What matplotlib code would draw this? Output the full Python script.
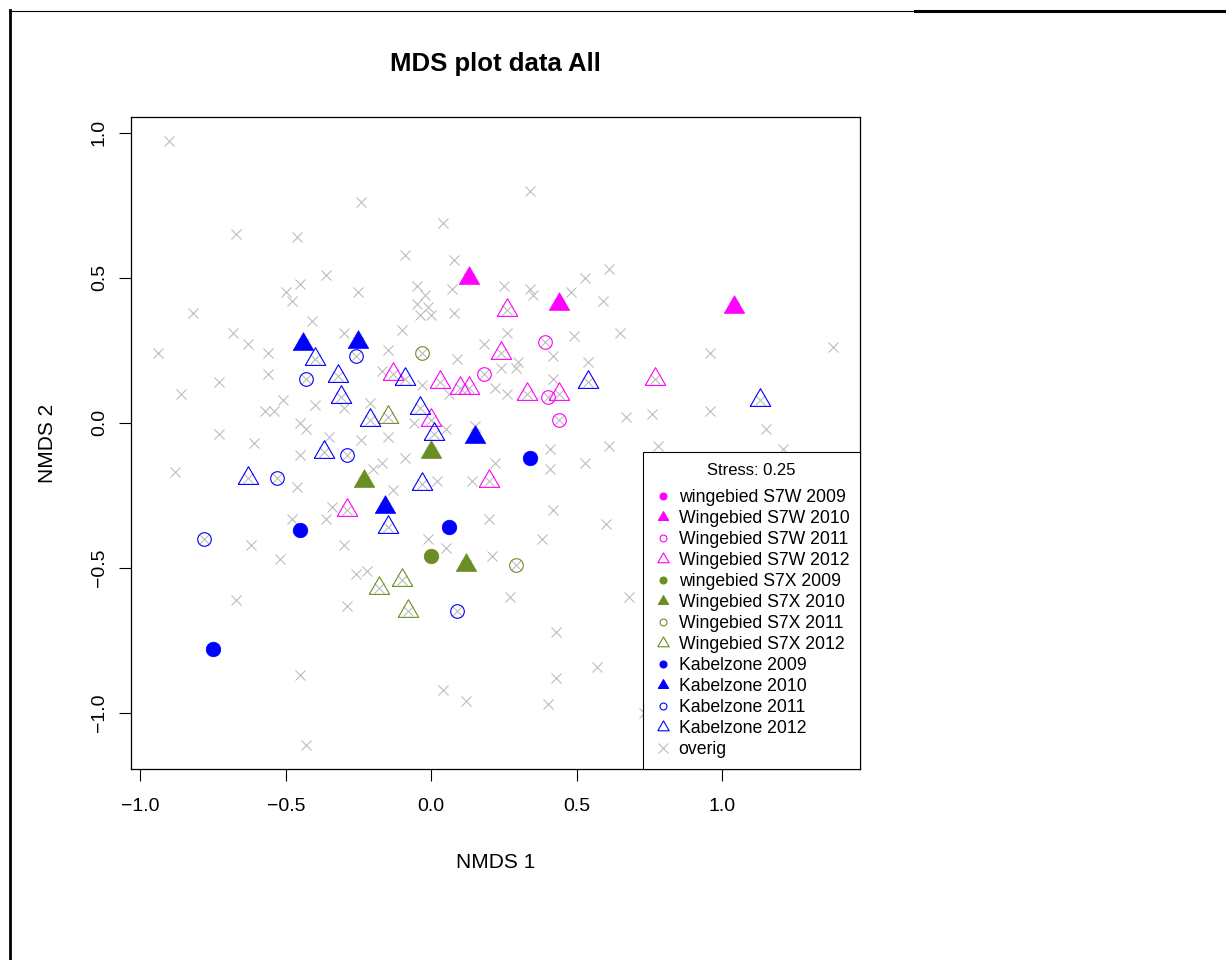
import matplotlib
matplotlib.use("Agg")
import matplotlib.pyplot as plt
from matplotlib.lines import Line2D

plt.rcParams['font.family'] = ['Liberation Sans', 'DejaVu Sans']

# --- data (NMDS 1, NMDS 2) ---
# S7W (magenta)
s7w_2009_x = []
s7w_2009_y = []
s7w_2010_x = [0.13, 0.44, 1.04]
s7w_2010_y = [0.50, 0.41, 0.40]
s7w_2011_x = [0.39, 0.18, 0.40, 0.44]
s7w_2011_y = [0.28, 0.17, 0.09, 0.01]
s7w_2012_x = [0.26, 0.24, 0.33, 0.44, 0.77, -0.13, 0.03, 0.10, 0.13, 0.00, 0.20, -0.29]
s7w_2012_y = [0.39, 0.24, 0.10, 0.10, 0.15, 0.17, 0.14, 0.12, 0.12, 0.01, -0.20, -0.30]

# S7X (olive)
s7x_2009_x = [0.00]
s7x_2009_y = [-0.46]
s7x_2010_x = [0.00, -0.23, 0.12]
s7x_2010_y = [-0.10, -0.20, -0.49]
s7x_2011_x = [-0.03, 0.29]
s7x_2011_y = [0.24, -0.49]
s7x_2012_x = [-0.15, -0.10, -0.18, -0.08]
s7x_2012_y = [0.02, -0.54, -0.57, -0.65]

# Kabelzone (blue)
kz_2009_x = [-0.45, 0.06, -0.75, 0.34]
kz_2009_y = [-0.37, -0.36, -0.78, -0.12]
kz_2010_x = [-0.44, -0.25, 0.15, -0.16]
kz_2010_y = [0.27, 0.28, -0.05, -0.29]
kz_2011_x = [-0.26, -0.43, -0.29, -0.53, -0.78, 0.09]
kz_2011_y = [0.23, 0.15, -0.11, -0.19, -0.40, -0.65]
kz_2012_x = [-0.40, -0.32, -0.31, -0.09, -0.04, -0.21, 0.01, 0.54, 1.13, -0.37, -0.63, -0.03, -0.15]
kz_2012_y = [0.22, 0.16, 0.09, 0.15, 0.05, 0.01, -0.04, 0.14, 0.08, -0.10, -0.19, -0.21, -0.36]

# overige sites (grey crosses)
overig_x = [-0.90, -0.24, 0.04, -0.67, -0.46, -0.09, 0.08, -0.36, -0.45, -0.50,
            -0.48, -0.25, -0.05, -0.02, -0.05, -0.01, -0.04, 0.00, 0.07, 0.08,
            -0.82, -0.41, -0.68, -0.30, -0.10, -0.63, -0.94, -0.56, -0.15, 0.18,
            0.09, -0.73, -0.56, -0.17, -0.86, -0.51, -0.57, -0.54, -0.40, -0.21,
            -0.30, -0.03, 0.06, 0.22, -0.45, -0.43, -0.73, -0.61, -0.35, -0.24,
            -0.15, 0.15, 0.05, -0.06,
            0.34, 0.61, 0.53, 0.25, 0.34, 0.35, 0.48, 0.59, 0.26, 0.49,
            0.65, 0.42, 0.54, 0.30, 0.24, 0.29, 0.42, 0.26, 0.96, 1.38,
            0.67, 0.76, 0.96, 1.15, 1.21, 0.41, 0.61, 0.78,
            -0.45, -0.09, -0.20, -0.17, 0.22, -0.88, -0.46, -0.13, 0.02, 0.14,
            -0.34, -0.48, -0.36, 0.20, -0.62, -0.30, -0.01, 0.05, 0.21, -0.52,
            -0.26, -0.22, -0.67, -0.29, -0.45, 0.04, 0.12, -0.43,
            0.41, 0.53, 0.42, 0.60, 0.38, 0.27, 0.68, 0.43, 0.57, 0.43,
            0.40, 0.73]
overig_y = [0.97, 0.76, 0.69, 0.65, 0.64, 0.58, 0.56, 0.51, 0.48, 0.45,
            0.42, 0.45, 0.47, 0.44, 0.41, 0.40, 0.37, 0.37, 0.46, 0.38,
            0.38, 0.35, 0.31, 0.31, 0.32, 0.27, 0.24, 0.24, 0.25, 0.27,
            0.22, 0.14, 0.17, 0.18, 0.10, 0.08, 0.04, 0.04, 0.06, 0.07,
            0.05, 0.13, 0.10, 0.12, 0.00, -0.02, -0.04, -0.07, -0.05, -0.06,
            -0.05, -0.01, -0.02, 0.00,
            0.80, 0.53, 0.50, 0.47, 0.46, 0.44, 0.45, 0.42, 0.31, 0.30,
            0.31, 0.23, 0.21, 0.21, 0.19, 0.19, 0.15, 0.10, 0.24, 0.26,
            0.02, 0.03, 0.04, -0.02, -0.09, -0.09, -0.08, -0.08,
            -0.11, -0.12, -0.16, -0.14, -0.14, -0.17, -0.22, -0.23, -0.20, -0.20,
            -0.29, -0.33, -0.33, -0.33, -0.42, -0.42, -0.40, -0.43, -0.46, -0.47,
            -0.52, -0.51, -0.61, -0.63, -0.87, -0.92, -0.96, -1.11,
            -0.16, -0.14, -0.30, -0.35, -0.40, -0.60, -0.60, -0.72, -0.84, -0.88,
            -0.97, -1.00]

MAGENTA = '#FF00FF'
OLIVE = '#6B8E23'
BLUE = '#0000FF'
GREY = '#BEBEBE'

# R-style equilateral triangle, centred on its centroid
TRI = [(-1, -0.577), (1, -0.577), (0, 1.155), (-1, -0.577)]

groups = [
    ('wingebied S7W 2009', s7w_2009_x, s7w_2009_y, MAGENTA, 'o', True),
    ('Wingebied S7W 2010', s7w_2010_x, s7w_2010_y, MAGENTA, '^', True),
    ('Wingebied S7W 2011', s7w_2011_x, s7w_2011_y, MAGENTA, 'o', False),
    ('Wingebied S7W 2012', s7w_2012_x, s7w_2012_y, MAGENTA, '^', False),
    ('wingebied S7X 2009', s7x_2009_x, s7x_2009_y, OLIVE, 'o', True),
    ('Wingebied S7X 2010', s7x_2010_x, s7x_2010_y, OLIVE, '^', True),
    ('Wingebied S7X 2011', s7x_2011_x, s7x_2011_y, OLIVE, 'o', False),
    ('Wingebied S7X 2012', s7x_2012_x, s7x_2012_y, OLIVE, '^', False),
    ('Kabelzone 2009', kz_2009_x, kz_2009_y, BLUE, 'o', True),
    ('Kabelzone 2010', kz_2010_x, kz_2010_y, BLUE, '^', True),
    ('Kabelzone 2011', kz_2011_x, kz_2011_y, BLUE, 'o', False),
    ('Kabelzone 2012', kz_2012_x, kz_2012_y, BLUE, '^', False),
]

fig = plt.figure(figsize=(12.26, 9.6), dpi=100)
ax = fig.add_axes([131 / 1226, 1 - 769 / 960, 729 / 1226, 652 / 960])

# all sites as grey crosses first, groups on top
all_x = list(overig_x)
all_y = list(overig_y)
for g in groups:
    all_x += g[1]
    all_y += g[2]
ax.plot(all_x, all_y, linestyle='none', marker='x', markersize=7.2,
        markeredgewidth=0.8, color=GREY)

handles = []
for label, gx, gy, col, shape, filled in groups:
    mk = TRI if shape == '^' else 'o'
    if shape == '^':
        ms = 17
    else:
        ms = 10.5 if filled else 9.8
    ax.plot(gx, gy, linestyle='none', marker=mk, markersize=ms,
            markerfacecolor=col if filled else 'none', markeredgecolor=col,
            markeredgewidth=0.8 if not filled else 0.5)
    lms = (8.5 if filled else 9.5) if shape == '^' else 5
    handles.append(Line2D([], [], linestyle='none', marker=mk, markersize=lms,
                          markerfacecolor=col if filled else 'none',
                          markeredgecolor=col, markeredgewidth=0.8, label=label))
handles.append(Line2D([], [], linestyle='none', marker='x', markersize=7.2,
                      markeredgewidth=0.8, color=GREY, label='overig'))

ax.set_xlim(-1.032, 1.474)
ax.set_ylim(-1.193, 1.054)
ax.set_xticks([-1.0, -0.5, 0.0, 0.5, 1.0])
ax.set_yticks([-1.0, -0.5, 0.0, 0.5, 1.0])
ax.tick_params(direction='out', length=8.6, width=0.8, labelsize=14)
ax.tick_params(axis='x', pad=12)
ax.tick_params(axis='y', pad=8, labelrotation=90)
for t in ax.get_yticklabels():
    t.set_va('center')
for s in ax.spines.values():
    s.set_linewidth(0.9)
    s.set_color('black')

ax.set_xlabel('NMDS 1', fontsize=15)
ax.set_ylabel('NMDS 2', fontsize=15)
ax.xaxis.set_label_coords(0.5, -0.143)
ax.xaxis.label.set_va('center')
ax.yaxis.set_label_coords(-0.114, 0.5)
ax.yaxis.label.set_va('center')
ax.set_title('MDS plot data All', fontsize=18.5, fontweight='bold',
             y=(769 - 64) / 652, va='center', pad=0)

leg = ax.legend(handles=handles, loc='lower right', borderaxespad=0,
                fontsize=12.7, title='Stress: 0.25', title_fontsize=12,
                fancybox=False, edgecolor='black', framealpha=1,
                handlelength=1.0, handletextpad=0.4, borderpad=0.6,
                labelspacing=0.23)
leg.get_frame().set_linewidth(0.8)
# more room between the title and the entries, as in the R legend
leg._legend_box.sep = 8

# screenshot frame around the figure
fig.add_artist(Line2D([10 / 1226, 10 / 1226], [0, 1 - 10 / 960], color='black',
                      lw=2, transform=fig.transFigure))
fig.add_artist(Line2D([9 / 1226, 915 / 1226], [1 - 10.5 / 960] * 2, color='black',
                      lw=0.8, transform=fig.transFigure))
fig.add_artist(Line2D([915 / 1226, 1], [1 - 11 / 960] * 2, color='black',
                      lw=2.2, transform=fig.transFigure))

fig.savefig('out.png', dpi=100)
